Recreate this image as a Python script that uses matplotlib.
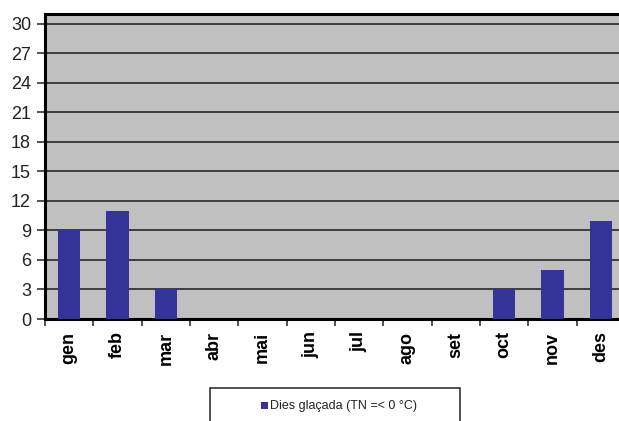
import matplotlib
matplotlib.use("Agg")
import matplotlib.pyplot as plt
from matplotlib.patches import Rectangle
from matplotlib.ticker import FixedLocator

months = ["gen", "feb", "mar", "abr", "mai", "jun", "jul", "ago", "set", "oct", "nov", "des"]
dies_glacada = [9, 11, 3, 0, 0, 0, 0, 0, 0, 3, 5, 10]
yticks = [0, 3, 6, 9, 12, 15, 18, 21, 24, 27, 30]
legend_label = "Dies glaçada (TN =< 0 °C)"

plt.rcParams['font.family'] = ['Liberation Sans', 'DejaVu Sans']

W, H = 619, 421
fig = plt.figure(figsize=(W / 100, H / 100), dpi=100)
ax = fig.add_axes([45 / W, (H - 319) / H, (625 - 45) / W, (319 - 14) / H])
ax.set_facecolor("#C0C0C0")

x = list(range(len(months)))
ax.bar(x, dies_glacada, width=0.46, color="#333399", zorder=3)

ax.set_xlim(-0.5, len(months) - 0.5)
ax.set_ylim(0, 31)
ax.set_yticks(yticks)
ax.set_yticklabels([str(v) for v in yticks], fontsize=13, color="#222222")
ax.yaxis.grid(True, color="#333333", linewidth=1.3, zorder=1)
ax.set_axisbelow(True)

ax.set_xticks(x)
ax.set_xticklabels(months, rotation=90, fontsize=13, fontweight="bold")
ax.tick_params(axis="x", which="major", length=0, pad=9)
ax.xaxis.set_minor_locator(FixedLocator([i + 0.5 for i in range(-1, len(months))]))
ax.tick_params(axis="x", which="minor", length=5, width=1.2, direction="out", color="#333333")
ax.tick_params(axis="y", length=6, width=1.2, direction="out", color="#333333", pad=4)

for side in ["left", "bottom", "top"]:
    ax.spines[side].set_linewidth(2.2)
    ax.spines[side].set_color("black")
ax.spines["right"].set_visible(False)

# legend box
rect = Rectangle((210 / W, -0.05), (460 - 210) / W, (H - 388) / H + 0.05,
                 transform=fig.transFigure, facecolor="white", edgecolor="#333333",
                 linewidth=1.2, clip_on=False)
fig.patches.append(rect)
sq = Rectangle((261 / W, (H - 409) / H), 7 / W, 7 / H, transform=fig.transFigure,
               facecolor="#333399", edgecolor="none")
fig.patches.append(sq)
fig.text(270 / W, (H - 405.5) / H, legend_label, fontsize=9, va="center", ha="left",
         color="#222222")

fig.savefig("out.png", dpi=100)
